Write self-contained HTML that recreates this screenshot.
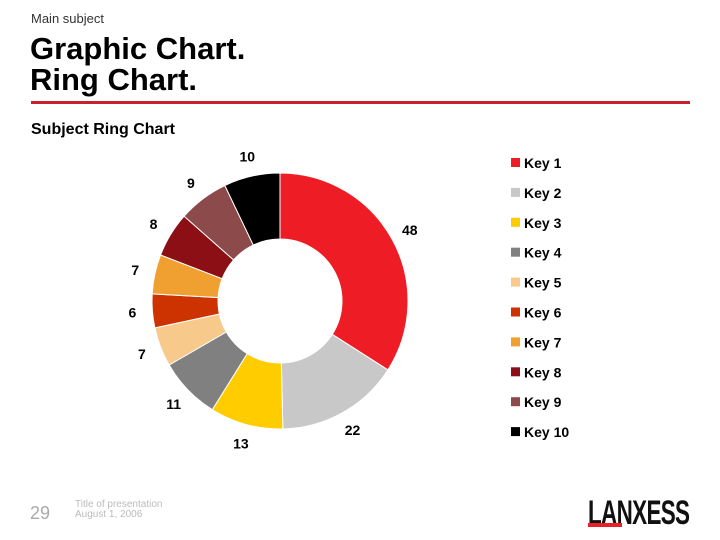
<!DOCTYPE html>
<html><head><meta charset="utf-8"><style>
body{margin:0;width:720px;height:540px;background:#fff;font-family:"Liberation Sans",sans-serif;position:relative;overflow:hidden}
.a{position:absolute}
</style></head><body>
<div class="a" style="left:31px;top:11px;font-size:13px;color:#333">Main subject</div>
<div class="a" style="left:30px;top:33px;font-size:31px;font-weight:bold;line-height:31px;color:#000">Graphic Chart.<br>Ring Chart.</div>
<div class="a" style="left:31px;top:101px;width:659px;height:3px;background:#c8202f"></div>
<div class="a" style="left:31px;top:121px;font-size:16px;font-weight:bold;color:#000">Subject Ring Chart</div>
<svg class="a" style="left:0;top:0" width="720" height="540" id="chart"></svg>
<div class="a" style="left:30px;top:503px;font-size:18px;color:#aaa">29</div>
<div class="a" style="left:75px;top:500px;font-size:10px;line-height:10px;color:#bbb">Title of presentation<br>August 1, 2006</div>
<div class="a" style="left:588px;top:496px;width:104px;height:34px">
<div style="position:absolute;left:0;top:0;font-size:34px;font-weight:bold;letter-spacing:-1px;transform:scaleX(0.66);transform-origin:left top;line-height:34px;color:#111">LANXESS</div>
<div style="position:absolute;left:0;top:27px;width:34px;height:4px;background:#e8202a"></div>
</div>
<script>
const keys=["Key 1","Key 2","Key 3","Key 4","Key 5","Key 6","Key 7","Key 8","Key 9","Key 10"];
const values=[48,22,13,11,7,6,7,8,9,10];
const colors=["#ee1c25","#c8c8c8","#ffcc00","#808080","#f7c98a","#cc3300","#f0a030","#8b0f14","#8c4a4a","#000000"];
const svg=document.getElementById('chart');
const NS="http://www.w3.org/2000/svg";
const cx=280,cy=301,R=128,r=62,LR=148;
const total=values.reduce((a,b)=>a+b,0);
function ang(v){return v/total*2*Math.PI;}
function pt(a,rad){return [cx+rad*Math.sin(a),cy-rad*Math.cos(a)];}
let acc=0;
values.forEach((v,i)=>{
  const a0=ang(acc),a1=ang(acc+v);acc+=v;
  const large=(a1-a0)>Math.PI?1:0;
  const p1=pt(a0,R),p2=pt(a1,R),p3=pt(a1,r),p4=pt(a0,r);
  const path=document.createElementNS(NS,'path');
  path.setAttribute('d',`M${p1[0]},${p1[1]}A${R},${R} 0 ${large} 1 ${p2[0]},${p2[1]}L${p3[0]},${p3[1]}A${r},${r} 0 ${large} 0 ${p4[0]},${p4[1]}Z`);
  path.setAttribute('fill',colors[i]);
  path.setAttribute('stroke','#fff');path.setAttribute('stroke-width','1');
  
  
  svg.appendChild(path);
  const m=(a0+a1)/2,lp=pt(m,LR);
  const t=document.createElementNS(NS,'text');
  t.setAttribute('x',lp[0]);t.setAttribute('y',lp[1]+5);
  t.setAttribute('text-anchor','middle');t.setAttribute('font-size','14');t.setAttribute('font-weight','bold');
  t.setAttribute('font-family','Liberation Sans, sans-serif');
  t.textContent=v;
  
  
  svg.appendChild(t);
  const y=162+i*29.9;
  const g=document.createElementNS(NS,'g');
  
  
  const s=document.createElementNS(NS,'rect');
  s.setAttribute('x',511);s.setAttribute('y',y-4);s.setAttribute('width',9);s.setAttribute('height',9);s.setAttribute('fill',colors[i]);
  g.appendChild(s);
  const lt=document.createElementNS(NS,'text');
  lt.setAttribute('x',524);lt.setAttribute('y',y+6);lt.setAttribute('font-size','14');lt.setAttribute('font-weight','bold');
  lt.setAttribute('font-family','Liberation Sans, sans-serif');lt.textContent=keys[i];
  g.appendChild(lt);
  svg.appendChild(g);
});
</script>
</body></html>
